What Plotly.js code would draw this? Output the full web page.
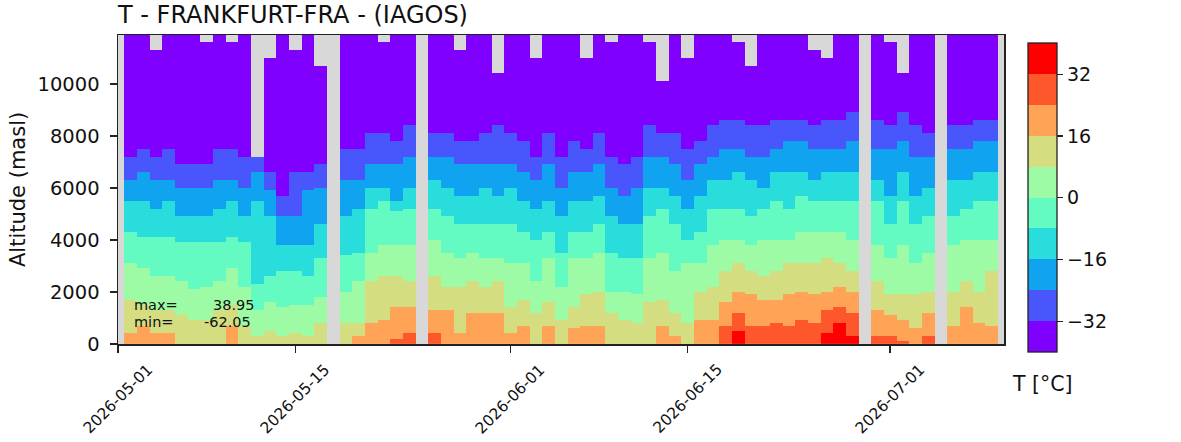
<!DOCTYPE html>
<html>
<head>
<meta charset="utf-8">
<script src="https://cdn.plot.ly/plotly-3.0.1.min.js"></script>
<style>
  body { margin: 0; background: #fff; }
  #graph { width: 1181px; height: 442px; }
</style>
</head>
<body>
<div id="graph"></div>
<script>
// one column per day, 2026-05-01 .. 2026-07-10 (null = no flight that day)
const nDays = 71;

// top of the profile (m), grey above
const dataTop = [null,
  12000, 12000, 11300, 12000, 12000, 12000, 11600, 12000, 11600, 12000,
  7200, 11000, 12000, 11300, 12000, 10700, null, 12000, 12000, 12000,
  11600, 12000, 12000, null, 12000, 12000, 11300, 12000, 12000, 10400,
  12000, 12000, 11000, 12000, 12000, 12000, 11000, 12000, 11600, 12000,
  12000, 11600, 10100, 12000, 11000, 12000, 12000, 12000, 11600, 10700,
  12000, 12000, 12000, 12000, 11300, 11000, 12000, 12000, null, 12000,
  11600, 10400, 12000, 12000, null, 12000, 12000, 12000, 12000, null];

// altitude (m) of each isotherm, read per day (0 = not reached)
const isoM32 = [null,
  7200, 7500, 7200, 7500, 6900, 6900, 6900, 7500, 7500, 7200,
  7200, 6600, 5700, 6600, 6600, 6900, null, 7500, 7500, 8100,
  8100, 7800, 8400, null, 8100, 8100, 7800, 7800, 8100, 8400,
  8100, 7800, 7200, 8100, 7200, 7800, 7500, 8100, 7200, 6900,
  7200, 8400, 8100, 8100, 7500, 7800, 8400, 8600, 8600, 8400,
  8400, 8600, 8600, 8600, 8400, 8600, 8600, 8900, null, 8600,
  8400, 8900, 8400, 8100, null, 8400, 8400, 8600, 8600, null];

const isoM24 = [null,
  6300, 6600, 6300, 6300, 6000, 6000, 6000, 6300, 6300, 6000,
  6600, 5900, 4900, 4900, 5900, 6000, null, 6300, 6300, 6900,
  6900, 6900, 7200, null, 7200, 7200, 6900, 6900, 6900, 6900,
  6900, 6600, 6300, 6900, 6000, 6600, 6600, 6900, 6000, 5700,
  6000, 7200, 7200, 6900, 6300, 6900, 7200, 7500, 7500, 7200,
  7200, 7500, 7800, 7800, 7500, 7500, 7500, 7800, null, 7500,
  7500, 7800, 7200, 7200, null, 7500, 7500, 7800, 7800, null];

const isoM16 = [null,
  5500, 5500, 5200, 5500, 4900, 4900, 4900, 5200, 5500, 4900,
  5500, 4900, 3800, 3800, 3800, 4600, null, 4900, 5200, 6000,
  6000, 5500, 6000, null, 6300, 6000, 5700, 5700, 6000, 5700,
  6000, 5500, 5200, 5500, 4900, 5500, 5500, 5700, 4900, 4600,
  4600, 6000, 6000, 5700, 5200, 5700, 6300, 6300, 6600, 6300,
  6000, 6600, 6600, 6600, 6300, 6600, 6600, 6600, null, 6300,
  5700, 6600, 5700, 6000, null, 6300, 6300, 6600, 6600, null];

const isoM8 = [null,
  4300, 4100, 4100, 4100, 3900, 3900, 3900, 3900, 4100, 3900,
  2300, 2600, 2800, 2800, 2600, 3300, null, 3400, 3500, 5200,
  5500, 5100, 5200, null, 5200, 4900, 4600, 4600, 4600, 4600,
  4600, 4300, 4000, 4300, 3500, 4300, 4300, 4600, 3500, 3300,
  3300, 4900, 5200, 4600, 4000, 4300, 5200, 5200, 5200, 4900,
  5200, 5500, 5200, 5700, 5500, 5500, 5500, 5500, null, 5500,
  4600, 5500, 4600, 4900, null, 4900, 5200, 5500, 5500, null];

const iso0 = [null,
  3100, 2900, 2600, 2600, 2400, 2100, 2200, 2400, 2900, 2200,
  1300, 1600, 1400, 1500, 1500, 1800, null, 2000, 2400, 3500,
  3800, 3800, 3800, null, 4000, 3500, 3300, 3500, 3300, 3300,
  3100, 3100, 2400, 3300, 2200, 3300, 3300, 3500, 2000, 2000,
  1900, 3300, 3500, 2800, 3100, 3100, 3800, 4000, 4000, 3800,
  4000, 4000, 4000, 4300, 4300, 4300, 4300, 4000, null, 3800,
  3300, 3800, 3100, 3500, null, 3800, 4000, 4000, 4000, null];

const iso8 = [null,
  1700, 1500, 1300, 1300, 1100, 900, 900, 1300, 1500, 700,
  300, 500, 300, 400, 300, 800, null, 800, 800, 2400,
  2600, 2600, 2400, null, 2600, 2200, 2200, 2400, 2200, 2400,
  1400, 1700, 1200, 1600, 900, 1400, 1900, 2000, 1200, 900,
  800, 1600, 1700, 1200, 800, 2000, 2200, 2800, 3100, 2800,
  2600, 2800, 3100, 3100, 3100, 3300, 3100, 2800, null, 2400,
  1900, 1900, 1900, 2000, null, 2000, 2400, 2000, 2800, null];

const iso16 = [null,
  400, 700, 400, 400, 0, 0, 0, 0, 700, 0,
  0, 0, 0, 0, 0, 0, null, 0, 300, 800,
  900, 1400, 1400, null, 1300, 1300, 400, 1200, 1200, 1200,
  400, 700, 0, 700, 0, 600, 700, 700, 0, 0,
  0, 0, 700, 300, 0, 900, 900, 1600, 2000, 1900,
  1700, 1700, 1900, 2000, 1900, 2000, 2200, 2000, null, 1300,
  1100, 900, 600, 1200, null, 700, 1400, 800, 700, null];

const iso24 = [null,
  0, 0, 0, 0, 0, 0, 0, 0, 0, 0,
  0, 0, 0, 0, 0, 0, null, 0, 0, 0,
  0, 200, 400, null, 400, 0, 0, 0, 0, 0,
  0, 0, 0, 0, 0, 0, 0, 0, 0, 0,
  0, 0, 0, 0, 0, 0, 0, 700, 1200, 700,
  700, 800, 700, 900, 800, 1300, 1400, 1200, null, 300,
  300, 100, 0, 300, null, 0, 0, 0, 0, null];

const iso32 = [null,
  0, 0, 0, 0, 0, 0, 0, 0, 0, 0,
  0, 0, 0, 0, 0, 0, null, 0, 0, 0,
  0, 0, 0, null, 0, 0, 0, 0, 0, 0,
  0, 0, 0, 0, 0, 0, 0, 0, 0, 0,
  0, 0, 0, 0, 0, 0, 0, 0, 500, 0,
  0, 0, 0, 0, 0, 400, 800, 300, null, 0,
  0, 0, 0, 0, null, 0, 0, 0, 0, null];

// colour classes, -40..40 by 8
const levelTemps = [-36, -28, -20, -12, -4, 4, 12, 20, 28, 36];
const levelColors = ["#7f00ff", "#4856fb", "#0fa3f0", "#2adddd", "#64fbc3",
                     "#9cfba4", "#d4dd80", "#ffa457", "#ff572c", "#ff0000"];
const cbTicks = [-32, -16, 0, 16, 32];
const cbTickText = ["\u221232", "\u221216", "0", "16", "32"];

const tickDates = ["2026-05-01", "2026-05-15", "2026-06-01", "2026-06-15", "2026-07-01"];
const statMax = "38.95";
const statMin = "-62.05";

// grid
var days = [];
var t0 = Date.UTC(2026, 4, 1);
for (var i = 0; i < nDays; i++) {
    days.push(new Date(t0 + i * 86400000).toISOString().slice(0, 10));
}
var alts = [];
for (var h = 25; h < 12000; h += 50) alts.push(h);

const isos = [isoM32, isoM24, isoM16, isoM8, iso0, iso8, iso16, iso24, iso32];
var z = alts.map(function (h) {
    return days.map(function (d, i) {
        if (dataTop[i] === null || h > dataTop[i]) return null;
        var n = 0;
        isos.forEach(function (a) { if (h < a[i]) n++; });
        return levelTemps[n];
    });
});

var colorscale = [];
levelColors.forEach(function (c, k) {
    colorscale.push([k / 10, c]);
    colorscale.push([(k + 1) / 10, c]);
});

const FONT = "DejaVu Sans, Liberation Sans, sans-serif";
const INK = "#111";

var annotations = tickDates.map(function (d) {
    return {
        x: d, xref: "x", y: -0.05, yref: "paper",
        text: d, showarrow: false, textangle: -45,
        xanchor: "center", yanchor: "top", borderpad: 0,
        font: { family: FONT, size: 15.5, color: INK },
    };
});

// max / min box, lines 17 px apart
var statFont = { family: FONT, size: 14.5, color: INK };
function statNote(x, y, text, anchor) {
    return { x: x, y: y, xref: "paper", yref: "paper", text: text, showarrow: false,
             xanchor: anchor, yanchor: "middle", borderpad: 0, font: statFont };
}
annotations.push(
    statNote(0.0173, 0.1278, "max=", "left"),
    statNote(0.1554, 0.1278, statMax, "right"),
    statNote(0.0173, 0.0728, "min=", "left"),
    statNote(0.1515, 0.0728, statMin, "right"),
    // y axis title
    { x: -0.1134, y: 0.5, xref: "paper", yref: "paper", text: "Altitude (masl)", showarrow: false,
      textangle: -90, xanchor: "center", yanchor: "middle", borderpad: 0,
      font: { family: FONT, size: 21, color: INK } },
    // colorbar title
    { x: 1.0429, y: -0.129, xref: "paper", yref: "paper", text: "T [\u00b0C]", showarrow: false,
      xanchor: "center", yanchor: "middle", borderpad: 0,
      font: { family: FONT, size: 20.5, color: INK } }
);

var trace = {
    type: "heatmap",
    x: days,
    y: alts,
    z: z,
    zmin: -40,
    zmax: 40,
    colorscale: colorscale,
    hoverinfo: "skip",
    colorbar: {
        thickness: 29, thicknessmode: "pixels",
        len: 309, lenmode: "pixels",
        x: 1.027, xanchor: "left", xref: "paper",
        y: 0.973, yanchor: "top",
        xpad: 0, ypad: 0,
        outlinewidth: 1.3, outlinecolor: "#222",
        tickvals: cbTicks, ticktext: cbTickText,
        ticks: "outside", ticklen: 6, tickwidth: 1.3, tickcolor: "#222",
        tickfont: { family: FONT, size: 19, color: INK },
    },
};

var layout = {
    width: 1181,
    height: 442,
    margin: { l: 118, r: 177, t: 35, b: 98 },
    paper_bgcolor: "#ffffff",
    plot_bgcolor: "#d8d8d8",
    showlegend: false,
    title: {
        text: "T - FRANKFURT-FRA - (IAGOS)",
        x: 118 / 1181, xref: "container", xanchor: "left",
        y: 1 - 14.6 / 442, yref: "container", yanchor: "middle",
        font: { family: FONT, size: 24, color: INK },
    },
    xaxis: {
        type: "date",
        range: ["2026-05-01", "2026-07-10"],
        tickvals: tickDates,
        showticklabels: false,
        ticks: "outside", ticklen: 7, tickwidth: 1.3, tickcolor: "#222",
        showgrid: false, zeroline: false,
        showline: true, mirror: true, linecolor: "#222", linewidth: 1.5,
    },
    yaxis: {
        range: [0, 11880],
        tickvals: [0, 2000, 4000, 6000, 8000, 10000],
        tickformat: "d",
        ticks: "outside", ticklen: 7, tickwidth: 1.3, tickcolor: "#222",
        ticklabelstandoff: 6,
        tickfont: { family: FONT, size: 19.5, color: INK },
        showgrid: false, zeroline: false,
        showline: true, mirror: true, linecolor: "#222", linewidth: 1.5,
    },
    annotations: annotations,
};

Plotly.newPlot("graph", [trace], layout, { displayModeBar: false, staticPlot: true });
</script>
</body>
</html>
